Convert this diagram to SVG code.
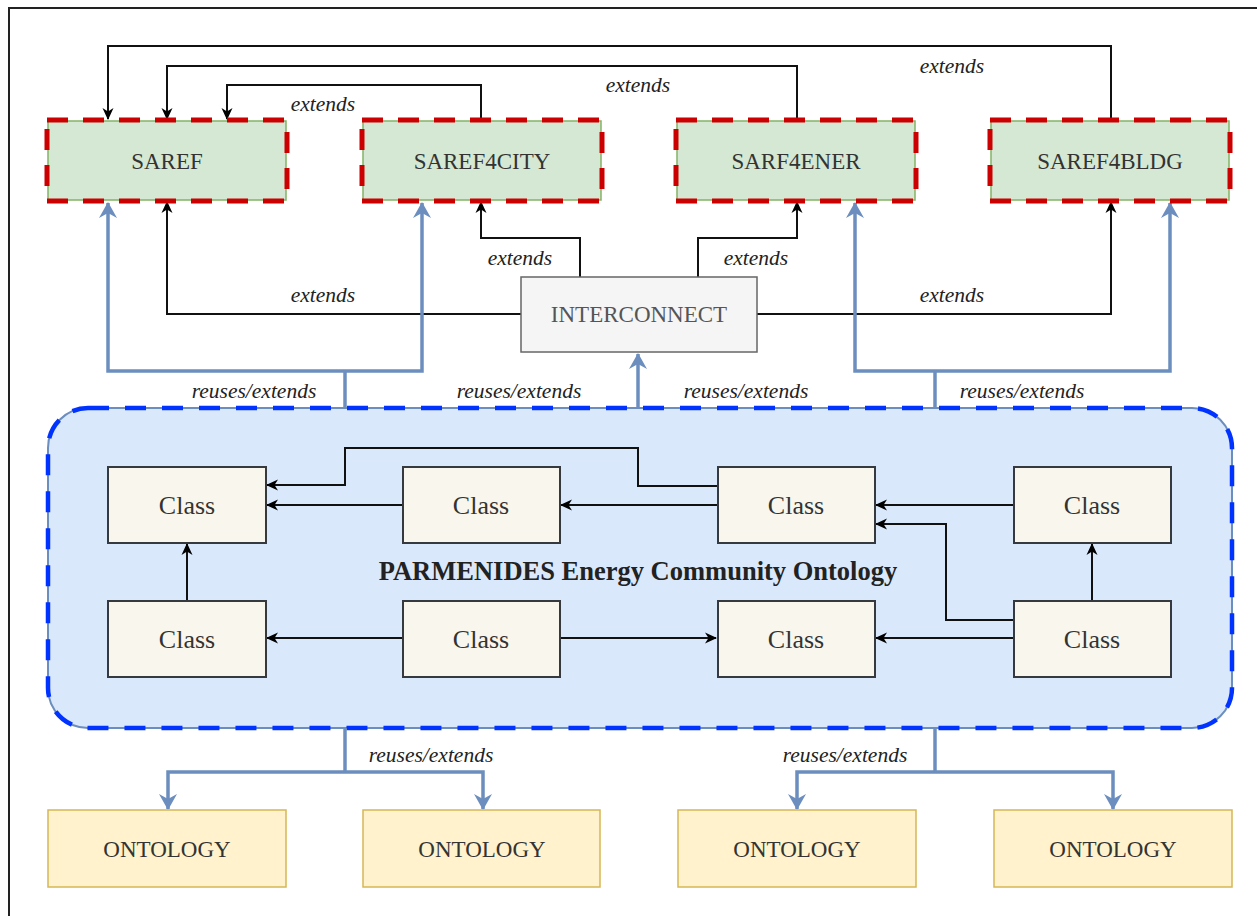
<svg xmlns="http://www.w3.org/2000/svg" width="1257" height="916" viewBox="0 0 1257 916">
<defs>
<style>
.lbl{font-family:"Liberation Serif","Times New Roman",serif;font-size:23px;fill:#333;text-anchor:middle}
.cls{font-family:"Liberation Serif","Times New Roman",serif;font-size:26px;fill:#333;text-anchor:middle}
.ital{font-family:"Liberation Serif","Times New Roman",serif;font-size:21.5px;font-style:italic;fill:#222;text-anchor:middle}
.title{font-family:"Liberation Serif","Times New Roman",serif;font-size:26.5px;font-weight:bold;fill:#222;text-anchor:middle}
.green{fill:#d5e8d4;stroke:#82b366;stroke-width:1.5}
.reddash{fill:none;stroke:#cc0000;stroke-width:5;stroke-dasharray:21 15}
.classbox{fill:#f9f7ed;stroke:#36393d;stroke-width:2}
.onto{fill:#fff2cc;stroke:#d6b656;stroke-width:1.5}
.blk{fill:none;stroke:#111;stroke-width:2;marker-end:url(#ab)}
.blu{fill:none;stroke:#6c8ebf;stroke-width:3.5}
.bluA{fill:none;stroke:#6c8ebf;stroke-width:3.5;marker-end:url(#abl)}
</style>
<marker id="ab" viewBox="0 0 12 12" refX="11" refY="6" markerWidth="12" markerHeight="12" markerUnits="userSpaceOnUse" orient="auto">
<path d="M0,0.5 L12,6 L0,11.5 L3.5,6 z" fill="#000"/>
</marker>
<marker id="abl" viewBox="0 0 16 18" refX="15" refY="9" markerWidth="16" markerHeight="18" markerUnits="userSpaceOnUse" orient="auto">
<path d="M0,0 L16,9 L0,18 L5,9 z" fill="#6c8ebf"/>
</marker>
</defs>
<rect x="0" y="0" width="1257" height="916" fill="#fff"/>
<path d="M9,916 V8 H1257" fill="none" stroke="#222" stroke-width="2"/>

<g id="pec">
<rect x="48" y="408" width="1184" height="320" rx="40" fill="#dae8fc" stroke="#6c8ebf" stroke-width="2"/>
<rect x="48" y="408" width="1184" height="320" rx="40" fill="none" stroke="#0033ff" stroke-width="4.5" stroke-dasharray="21 16"/>
<text class="title" x="638" y="580">PARMENIDES Energy Community Ontology</text>
</g>

<g id="connectors">
<path class="blk" d="M1111,120 V46 H108 V119"/>
<path class="blk" d="M797,120 V66 H167 V119"/>
<path class="blk" d="M481,120 V85 H227 V119"/>
<path class="blk" d="M521,314 H167 V202"/>
<path class="blk" d="M580,277 V238 H481 V202"/>
<path class="blk" d="M698,277 V238 H797 V202"/>
<path class="blk" d="M757,314 H1111 V202"/>

<path class="blu" d="M345,408 V371"/>
<path class="bluA" d="M345,371 H108 V203"/>
<path class="bluA" d="M345,371 H422 V203"/>
<path class="bluA" d="M638,408 V354"/>
<path class="blu" d="M935,408 V371"/>
<path class="bluA" d="M935,371 H855 V203"/>
<path class="bluA" d="M935,371 H1170 V203"/>
<path class="blu" d="M345,728 V772"/>
<path class="bluA" d="M345,772 H168 V809"/>
<path class="bluA" d="M345,772 H483 V809"/>
<path class="blu" d="M935,728 V772"/>
<path class="bluA" d="M935,772 H797 V809"/>
<path class="bluA" d="M935,772 H1113 V809"/>

<path class="blk" d="M403,505 H267"/>
<path class="blk" d="M717,486 H638 V448 H345 V485 H267"/>
<path class="blk" d="M717,505 H561"/>
<path class="blk" d="M1013,505 H876"/>
<path class="blk" d="M1013,620 H946 V524 H876"/>
<path class="blk" d="M1092,600 V544"/>
<path class="blk" d="M1013,638 H876"/>
<path class="blk" d="M560,638 H716"/>
<path class="blk" d="M403,638 H267"/>
<path class="blk" d="M187,600 V544"/>

<text class="ital" x="952" y="73">extends</text>
<text class="ital" x="638" y="92">extends</text>
<text class="ital" x="323" y="111">extends</text>
<text class="ital" x="520" y="265">extends</text>
<text class="ital" x="756" y="265">extends</text>
<text class="ital" x="323" y="302">extends</text>
<text class="ital" x="952" y="302">extends</text>
<text class="ital" x="254" y="398">reuses/extends</text>
<text class="ital" x="519" y="398">reuses/extends</text>
<text class="ital" x="746" y="398">reuses/extends</text>
<text class="ital" x="1022" y="398">reuses/extends</text>
<text class="ital" x="431" y="762">reuses/extends</text>
<text class="ital" x="845" y="762">reuses/extends</text>
</g>

<g id="saref">
<rect class="green" x="48" y="121" width="238" height="79"/>
<rect class="reddash" x="47" y="120" width="240" height="81"/>
<text class="lbl" x="167" y="169">SAREF</text>
</g>
<g id="saref4city">
<rect class="green" x="363" y="121" width="238" height="79"/>
<rect class="reddash" x="362" y="120" width="240" height="81"/>
<text class="lbl" x="482" y="169">SAREF4CITY</text>
</g>
<g id="sarf4ener">
<rect class="green" x="677" y="121" width="238" height="79"/>
<rect class="reddash" x="676" y="120" width="240" height="81"/>
<text class="lbl" x="796" y="169">SARF4ENER</text>
</g>
<g id="saref4bldg">
<rect class="green" x="991" y="121" width="238" height="79"/>
<rect class="reddash" x="990" y="120" width="240" height="81"/>
<text class="lbl" x="1110" y="169">SAREF4BLDG</text>
</g>

<g id="interconnect">
<rect x="521" y="277" width="236" height="75" fill="#f5f5f5" stroke="#666" stroke-width="1.5"/>
<text class="lbl" x="639" y="322" style="fill:#555">INTERCONNECT</text>
</g>

<g id="class1"><rect class="classbox" x="108" y="467" width="158" height="76"/><text class="cls" x="187" y="514">Class</text></g>
<g id="class2"><rect class="classbox" x="403" y="467" width="157" height="76"/><text class="cls" x="481" y="514">Class</text></g>
<g id="class3"><rect class="classbox" x="718" y="467" width="157" height="76"/><text class="cls" x="796" y="514">Class</text></g>
<g id="class4"><rect class="classbox" x="1014" y="467" width="157" height="76"/><text class="cls" x="1092" y="514">Class</text></g>
<g id="class5"><rect class="classbox" x="108" y="601" width="158" height="76"/><text class="cls" x="187" y="648">Class</text></g>
<g id="class6"><rect class="classbox" x="403" y="601" width="157" height="76"/><text class="cls" x="481" y="648">Class</text></g>
<g id="class7"><rect class="classbox" x="718" y="601" width="157" height="76"/><text class="cls" x="796" y="648">Class</text></g>
<g id="class8"><rect class="classbox" x="1014" y="601" width="157" height="76"/><text class="cls" x="1092" y="648">Class</text></g>

<g id="onto1"><rect class="onto" x="48" y="810" width="238" height="77"/><text class="lbl" x="167" y="857">ONTOLOGY</text></g>
<g id="onto2"><rect class="onto" x="363" y="810" width="237" height="77"/><text class="lbl" x="482" y="857">ONTOLOGY</text></g>
<g id="onto3"><rect class="onto" x="678" y="810" width="238" height="77"/><text class="lbl" x="797" y="857">ONTOLOGY</text></g>
<g id="onto4"><rect class="onto" x="994" y="810" width="238" height="77"/><text class="lbl" x="1113" y="857">ONTOLOGY</text></g>
</svg>
